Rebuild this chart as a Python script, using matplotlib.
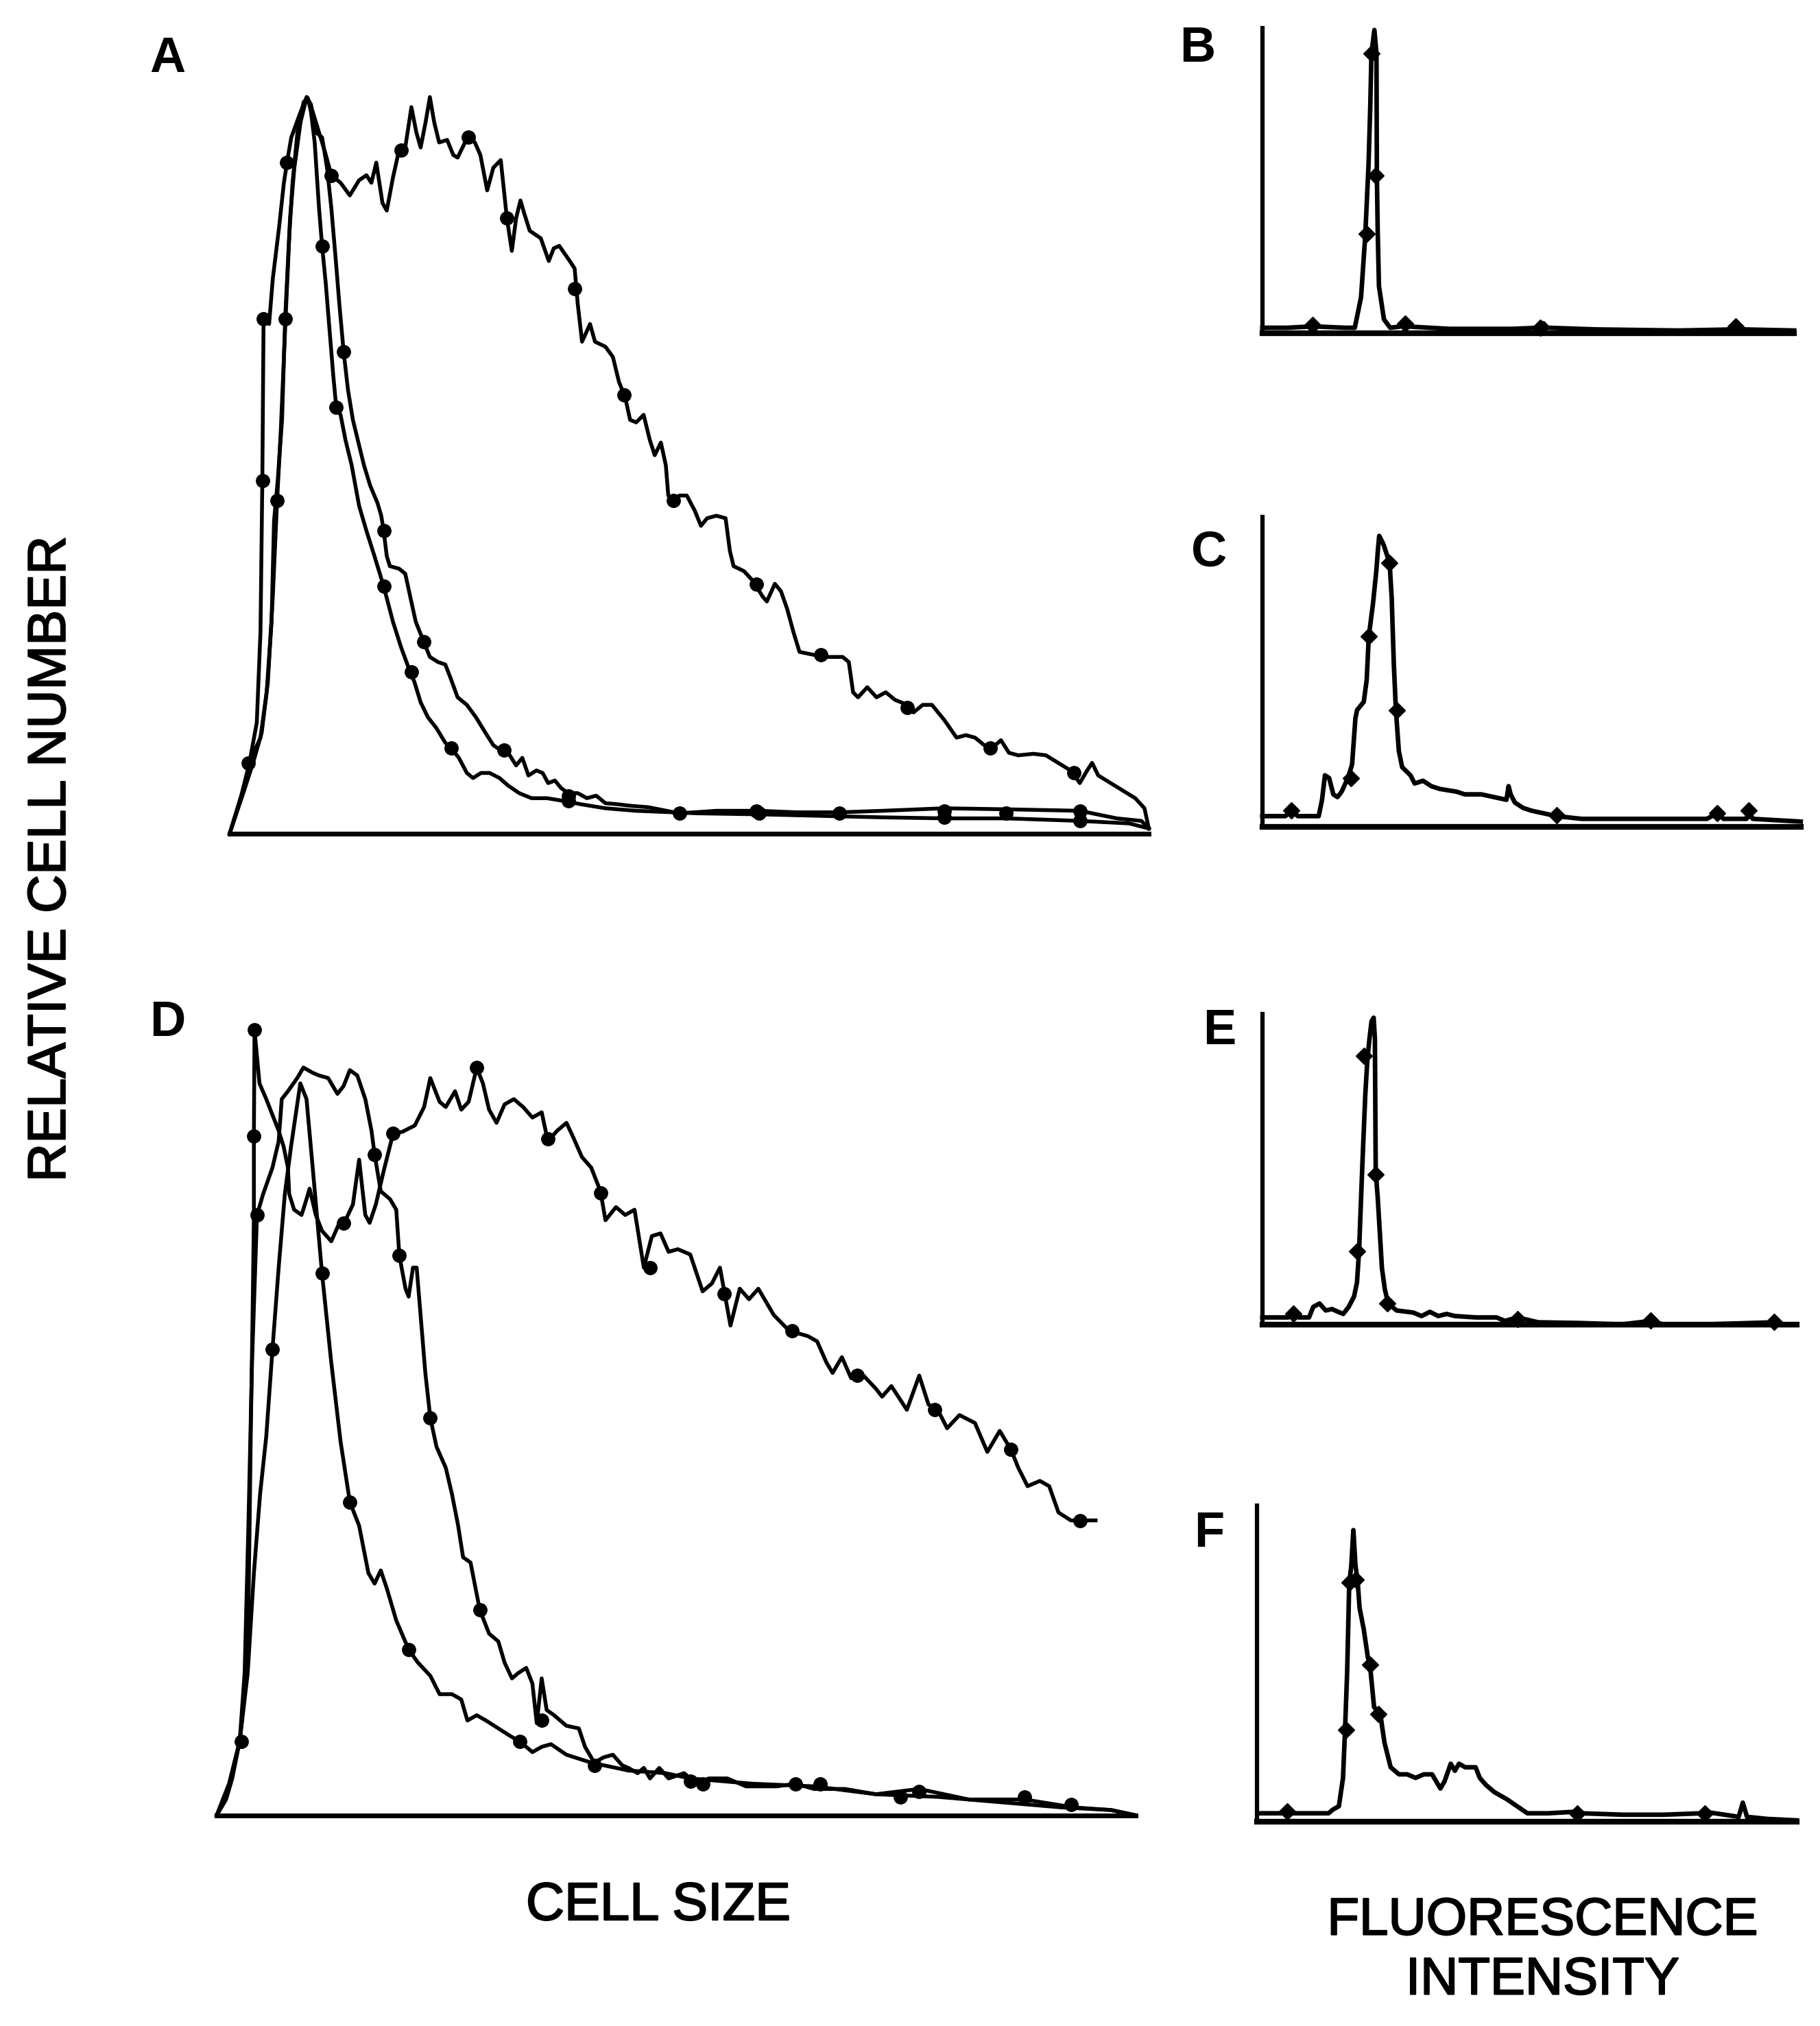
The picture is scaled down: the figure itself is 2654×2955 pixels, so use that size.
import matplotlib
matplotlib.use('Agg')
import matplotlib.pyplot as plt
import matplotlib.patheffects as pe

plt.rcParams['font.family'] = ['Liberation Sans', 'DejaVu Sans']

# ---- panel A : cell size histograms (channel, relative count) ----
a_broad_x = [0, 20, 35, 50, 60, 68, 72, 78, 85, 90, 98, 105, 115, 125,
             135, 145, 155, 165, 180, 195, 210, 222, 230, 238, 248, 255, 265, 275, 285, 295,
             303, 310, 318, 325, 332, 340, 353, 363, 370, 378, 388, 398, 407, 418, 428, 440,
             450, 458, 465, 472, 478, 487, 505, 518, 526, 535, 552, 560, 565, 572, 585, 593,
             610, 622, 632, 642, 650, 660, 672, 682, 690, 700, 708, 712, 720, 730, 742, 755,
             765, 775, 790, 805, 812, 818, 835, 850, 865, 872, 885, 895, 905, 915, 925, 945,
             965, 995, 1005, 1012, 1020, 1035, 1050, 1065, 1080, 1100, 1110, 1125, 1140, 1160,
             1180, 1195, 1210, 1225, 1238, 1252, 1265, 1280, 1305, 1325, 1345, 1365, 1380,
             1392, 1400, 1410, 1430, 1450, 1470, 1485, 1492]
a_broad_y = [0, 80, 150, 190, 280, 420, 620, 700, 820, 1020, 1220, 1320, 1410, 1460,
             1430, 1390, 1350, 1305, 1290, 1265, 1295, 1305, 1290, 1330, 1250, 1235, 1300, 1355, 1360, 1440,
             1390, 1360, 1410, 1460, 1410, 1370, 1375, 1345, 1340, 1360, 1385, 1370, 1345, 1275, 1320, 1335,
             1220, 1155, 1220, 1255, 1230, 1195, 1180, 1135, 1160, 1165, 1135, 1120, 1050, 975, 1010, 975,
             965, 945, 895, 865, 820, 815, 830, 780, 750, 775, 730, 670, 660, 670, 670, 640,
             610, 625, 630, 625, 560, 530, 520, 500, 470, 460, 495, 480, 445, 400, 360, 355,
             350, 350, 340, 280, 270, 290, 270, 280, 265, 255, 240, 255, 255, 225,
             190, 195, 190, 175, 170, 185, 160, 155, 158, 155, 140, 125, 100,
             125, 140, 115, 100, 85, 70, 50, 10]
a_broad_mx = [165, 278, 388, 450, 560, 640, 720, 855, 960, 1100, 1235, 1370, 90]
a_broad_my = [1305, 1355, 1380, 1220, 1080, 870, 660, 495, 355, 250, 170, 120, 1020]

a_mid_x = [0, 18, 32, 44, 50, 53, 55, 64, 70, 80, 88, 93, 100, 115, 125,
           132, 140, 150, 158, 165, 172, 178, 185, 192, 200, 208, 218, 228, 240, 246, 250,
           255, 260, 275, 285, 293, 302, 315, 325, 338, 350, 358, 370, 385, 400, 415, 428,
           440, 452, 465, 475, 485, 498, 508, 517, 528, 538, 550, 565, 580, 595, 610, 630,
           650, 680, 730, 790, 860, 920, 990, 1060, 1160, 1260, 1380, 1440, 1480, 1492]
a_mid_y = [0, 70, 140, 220, 400, 700, 1020, 1010, 1100, 1200, 1290, 1330, 1380, 1430, 1460,
           1445, 1390, 1380, 1320, 1240, 1140, 1050, 955, 880, 820, 780, 730, 690, 655, 630, 600,
           550, 530, 525, 515, 470, 420, 380, 350, 340, 335, 310, 270, 255, 230, 200, 175,
           165, 160, 135, 150, 115, 125, 120, 100, 105, 90, 80, 80, 70, 75, 60, 58,
           55, 52, 40, 45, 45, 42, 42, 45, 50, 48, 45, 30, 25, 10]
a_mid_mx = [185, 250, 315, 445, 550, 730, 855, 990, 1160, 1260, 1380, 55, 53, 93, 30]
a_mid_my = [955, 600, 380, 165, 75, 40, 45, 40, 45, 40, 45, 1020, 700, 1330, 140]

a_narrow_x = [0, 22, 38, 52, 62, 70, 77, 83, 90, 97, 102, 110, 120, 127,
              132, 138, 145, 150, 156, 162, 168, 173, 180, 188, 198, 210, 222, 235, 250, 265,
              278, 290, 300, 310, 322, 335, 350, 362, 372, 385, 395, 408, 422, 438, 452, 470,
              490, 515, 540, 570, 610, 660, 760, 860, 960, 1060, 1160, 1260, 1380, 1460, 1492]
a_narrow_y = [0, 80, 140, 200, 300, 470, 660, 800, 1000, 1190, 1290, 1390, 1450, 1458,
              1430, 1370, 1240, 1165, 1090, 1000, 910, 845, 830, 780, 730, 650, 600, 550, 490, 420,
              370, 330, 300, 260, 230, 210, 180, 165, 150, 120, 110, 120, 120, 110, 95, 80,
              70, 70, 65, 58, 50, 45, 40, 38, 35, 32, 30, 30, 25, 20, 10]
a_narrow_mx = [150, 173, 250, 295, 360, 550, 860, 1160, 1380, 77]
a_narrow_my = [1165, 845, 490, 320, 170, 65, 40, 32, 25, 660]

# ---- panel D ----
d_broad_x = [0, 15, 25, 37, 45, 51, 53, 55, 58, 60, 60, 61, 69, 80, 90, 100, 108, 115, 117, 125,
             137, 145, 150, 160, 170, 185, 200, 210, 220, 230, 240, 247, 257, 270, 285, 300, 320,
             335, 345, 360, 370, 385, 395, 407, 420, 430, 440, 452, 465, 480, 495, 510, 525, 535,
             550, 565, 575, 590, 605, 620, 628, 645, 660, 675, 690, 703, 717, 730, 745, 765, 785,
             800, 813, 820, 830, 845, 860, 875, 900, 925, 955, 970, 985, 995, 1010, 1025, 1045,
             1065, 1075, 1090, 1115, 1135, 1150, 1165, 1180, 1200, 1225, 1245, 1265, 1283, 1295,
             1310, 1330, 1345, 1360, 1380, 1395, 1420]
d_broad_y = [0, 30, 70, 140, 230, 380, 545, 730, 960, 1140, 1290, 1492, 1390, 1360, 1330, 1300, 1270, 1230, 1180, 1150,
             1140, 1170, 1190, 1140, 1110, 1090, 1130, 1135, 1160, 1245, 1140, 1125, 1160, 1225, 1295, 1298, 1310,
             1345, 1400, 1355, 1345, 1375, 1340, 1355, 1420, 1390, 1340, 1315, 1350, 1360, 1345, 1325, 1335, 1280,
             1300, 1315, 1290, 1250, 1230, 1185, 1130, 1155, 1140, 1150, 1040, 1100, 1105, 1070, 1075, 1065, 995,
             1010, 1040, 995, 930, 1000, 980, 1000, 950, 920, 910, 900, 860, 840, 870, 830, 835,
             810, 795, 815, 770, 835, 780, 770, 735, 760, 745, 690, 730, 695, 660,
             625, 635, 625, 575, 560, 560, 560]
d_broad_mx = [61, 60, 205, 285, 420, 535, 620, 700, 820, 930, 1035, 1160, 1283, 1395]
d_broad_my = [1492, 1290, 1125, 1295, 1420, 1285, 1182, 1040, 990, 920, 835, 770, 695, 560]

d_mid_x = [0, 20, 37, 45, 51, 57, 65, 75, 90, 100, 105, 115, 130, 140, 155, 165, 180, 195, 205,
           215, 227, 240, 250, 255, 265, 280, 290, 295, 305, 310, 317, 323, 330, 337, 345, 355,
           370, 380, 390, 398, 410, 420, 425, 440, 455, 465, 477, 487, 500, 510, 517, 525, 533,
           545, 565, 585, 595, 610, 625, 640, 655, 665, 680, 690, 700, 715, 730, 755, 775, 795,
           825, 855, 905, 935, 965, 1015, 1065, 1135, 1215, 1305, 1385, 1445, 1485]
d_mid_y = [0, 60, 140, 270, 545, 860, 1140, 1180, 1230, 1280, 1360, 1375, 1400, 1420, 1410, 1405, 1400, 1370, 1385,
           1415, 1405, 1360, 1300, 1255, 1185, 1170, 1150, 1063, 1000, 985, 1040, 1040, 940, 840, 755, 700,
           660, 610, 550, 490, 480, 420, 390, 345, 330, 290, 260, 270, 280, 250, 175, 260, 200,
           190, 170, 165, 130, 100, 110, 115, 95, 90, 80, 90, 70, 90, 70, 80, 60, 70,
           70, 55, 55, 60, 50, 50, 40, 50, 30, 30, 15, 10, 0]
d_mid_mx = [65, 255, 295, 345, 425, 525, 610, 785, 935, 1105, 1305]
d_mid_my = [1140, 1255, 1063, 755, 390, 180, 95, 60, 60, 35, 35]

d_narrow_x = [0, 20, 37, 50, 60, 70, 80, 90, 100, 110, 120, 130, 135, 145, 155, 170, 185, 200,
              215, 230, 245, 255, 265, 275, 290, 310, 325, 345, 360, 380, 395, 405, 420, 435,
              455, 475, 490, 510, 525, 540, 565, 605, 665, 725, 765, 865, 965, 1065, 1165,
              1265, 1365, 1445, 1485]
d_narrow_y = [0, 60, 140, 270, 460, 610, 720, 885, 1040, 1180, 1270, 1350, 1390, 1360, 1230, 1030, 860, 710,
              595, 550, 460, 440, 465, 430, 370, 315, 290, 265, 230, 230, 220, 180, 190, 180,
              165, 150, 140, 120, 130, 135, 115, 100, 85, 80, 70, 60, 55, 40, 35,
              25, 15, 10, 0]
d_narrow_mx = [40, 90, 170, 215, 310, 490, 765, 975, 1135, 1380]
d_narrow_my = [140, 885, 1030, 595, 315, 140, 65, 60, 45, 20]

# ---- panels B, C, E, F : fluorescence intensity ----
b_x = [0, 60, 110, 122, 135, 200, 222, 237, 247, 255, 259, 262, 269, 274, 275, 277, 280, 292, 307,
       330, 342, 355, 450, 600, 667, 675, 685, 800, 1000, 1137, 1145, 1155, 1277]
b_y = [10, 10, 12, 20, 12, 10, 10, 65, 175, 305, 405, 505, 547, 505, 285, 185, 85, 25, 10,
       12, 20, 12, 8, 8, 10, 18, 10, 7, 5, 7, 15, 7, 5]
b_mx = [120, 250, 272, 262, 342, 667, 1137]
b_my = [15, 180, 285, 505, 18, 10, 12]

c_x = [0, 55, 70, 85, 135, 143, 150, 160, 170, 180, 190, 205, 215, 223, 227, 243, 250, 255, 265,
       273, 277, 280, 290, 305, 310, 315, 320, 327, 335, 355, 365, 385, 405, 425, 465, 485, 525,
       555, 585, 590, 595, 605, 625, 645, 675, 705, 765, 1065, 1090, 1105, 1160, 1165, 1175, 1290]
c_y = [20, 20, 30, 20, 20, 50, 95, 90, 60, 55, 65, 90, 115, 200, 215, 230, 270, 350, 410,
       470, 510, 535, 520, 485, 420, 300, 215, 140, 110, 95, 80, 85, 75, 70, 65, 60, 60,
       55, 50, 75, 60, 45, 35, 30, 25, 20, 15, 15, 25, 15, 15, 30, 15, 10]
c_mx = [70, 213, 255, 305, 322, 705, 1090, 1165]
c_my = [30, 90, 350, 485, 215, 22, 25, 30]

e_x = [0, 62, 74, 87, 112, 122, 137, 152, 167, 182, 194, 207, 220, 227, 232, 240, 247, 252, 257,
       262, 267, 270, 272, 277, 282, 287, 294, 302, 322, 362, 382, 402, 422, 442, 462, 512,
       562, 582, 612, 662, 762, 862, 932, 962, 1062, 1227, 1242, 1282]
e_y = [10, 10, 15, 10, 10, 25, 30, 20, 22, 18, 15, 25, 40, 60, 105, 230, 330, 380, 410,
       435, 440, 410, 220, 180, 130, 80, 50, 30, 20, 17, 12, 18, 12, 15, 12, 10,
       10, 5, 10, 3, 2, 0, 5, 0, 0, 3, 0, 0]
e_mx = [74, 227, 244, 272, 300, 612, 932, 1227]
e_my = [15, 105, 385, 215, 30, 8, 6, 4]

f_x = [0, 62, 72, 82, 172, 182, 197, 207, 212, 217, 222, 227, 232, 237, 242, 247, 257, 267, 272,
       282, 297, 307, 322, 342, 362, 382, 402, 422, 442, 452, 467, 477, 487, 502, 527, 537,
       552, 572, 602, 627, 652, 702, 762, 782, 882, 982, 1072, 1082, 1162, 1172, 1182, 1232, 1302]
f_y = [12, 12, 17, 12, 12, 17, 22, 62, 132, 212, 337, 362, 412, 362, 342, 302, 272, 232, 222,
       162, 152, 112, 77, 67, 67, 62, 67, 67, 47, 57, 82, 72, 82, 77, 77, 62,
       52, 42, 32, 22, 12, 12, 14, 12, 10, 10, 12, 14, 7, 27, 7, 4, 2]
f_mx = [72, 215, 222, 237, 272, 292, 772, 1080]
f_my = [15, 130, 338, 342, 222, 152, 12, 12]


fig = plt.figure(figsize=(26.54, 29.55), dpi=100)
fig.patch.set_facecolor('white')

LW = 4.0
MS = 14


def size_panel(rect, xmax, ymax, curves):
    ax = fig.add_axes(rect)
    for x, y, mx, my in curves:
        ax.plot(x, y, color='black', lw=LW, clip_on=False, solid_joinstyle='round')
        ax.plot(mx, my, 'o', color='black', ms=MS, clip_on=False)
    ax.set_xlim(0, xmax)
    ax.set_ylim(0, ymax)
    for s in ['left', 'top', 'right']:
        ax.spines[s].set_visible(False)
    ax.spines['bottom'].set_linewidth(5)
    ax.set_xticks([])
    ax.set_yticks([])
    ax.patch.set_alpha(0)
    return ax


def fl_panel(rect, xmax, ymax, x, y, mx, my):
    ax = fig.add_axes(rect)
    ax.plot(x, y, color='black', lw=4.8, clip_on=False, solid_joinstyle='round')
    ax.plot(mx, my, 'D', color='black', ms=12, clip_on=False)
    ax.set_xlim(0, xmax)
    ax.set_ylim(0, ymax)
    for s in ['top', 'right']:
        ax.spines[s].set_visible(False)
    ax.spines['left'].set_linewidth(4.5)
    ax.spines['bottom'].set_linewidth(6)
    ax.set_xticks([])
    ax.set_yticks([])
    ax.patch.set_alpha(0)
    return ax


size_panel([0.1262, 0.5886, 0.505, 0.3635], 1492, 1460,
           [(a_broad_x, a_broad_y, a_broad_mx, a_broad_my),
            (a_mid_x, a_mid_y, a_mid_mx, a_mid_my),
            (a_narrow_x, a_narrow_y, a_narrow_mx, a_narrow_my)])

size_panel([0.1191, 0.1040, 0.505, 0.3878], 1485, 1492,
           [(d_broad_x, d_broad_y, d_broad_mx, d_broad_my),
            (d_mid_x, d_mid_y, d_mid_mx, d_mid_my),
            (d_narrow_x, d_narrow_y, d_narrow_mx, d_narrow_my)])

fl_panel([0.6936, 0.8355, 0.2922, 0.1505], 1277, 550, b_x, b_y, b_mx, b_my)
fl_panel([0.6936, 0.5918, 0.2958, 0.1531], 1290, 570, c_x, c_y, c_mx, c_my)
fl_panel([0.6936, 0.3463, 0.2936, 0.1531], 1282, 445, e_x, e_y, e_mx, e_my)
fl_panel([0.6908, 0.1008, 0.2964, 0.1562], 1302, 447, f_x, f_y, f_mx, f_my)

heavy = [pe.withStroke(linewidth=1.5, foreground='black')]

# panel letters
for lab, fx, fy in [('A', 0.0922, 0.971), ('D', 0.0922, 0.495), ('B', 0.658, 0.976),
                    ('C', 0.6645, 0.727), ('E', 0.670, 0.491), ('F', 0.6645, 0.243)]:
    fig.text(fx, fy, lab, fontsize=52, fontweight='bold', ha='center', va='center')

fig.text(0.028, 0.576, 'RELATIVE CELL NUMBER', rotation=90, fontsize=56,
         ha='center', va='center', path_effects=heavy)
fig.text(0.3617, 0.0593, 'CELL SIZE', fontsize=56, ha='center', va='center',
         path_effects=heavy)
fig.text(0.8475, 0.0517, 'FLUORESCENCE', fontsize=55, ha='center', va='center',
         path_effects=heavy)
fig.text(0.8475, 0.0223, 'INTENSITY', fontsize=55, ha='center', va='center',
         path_effects=heavy)

fig.savefig('out.png', dpi=100, facecolor='white')
